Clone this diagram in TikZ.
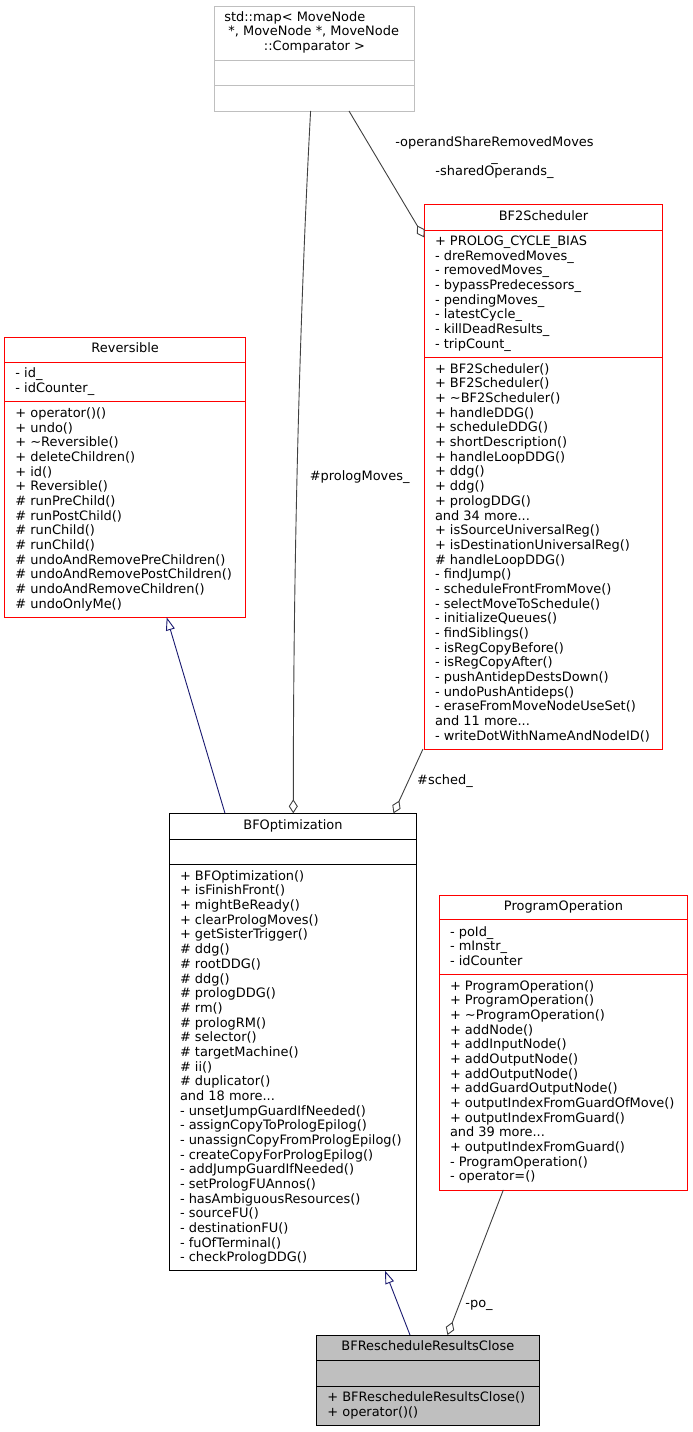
\documentclass[tikz,border=0pt]{standalone}
\usepackage{fontspec}
\setmainfont{DejaVu Sans}
\usetikzlibrary{arrows.meta}
\definecolor{edgegray}{HTML}{404040}
\definecolor{inhblue}{HTML}{191970}
\definecolor{mapgray}{HTML}{BFBFBF}
\definecolor{boxred}{HTML}{FF0000}
\newcommand\ltext[1]{\vtop{\baselineskip=14.67pt\lineskiplimit=-20pt\lineskip=0pt\halign{##\hfil\cr#1\crcr}}}
\newcommand\ctext[1]{\vtop{\baselineskip=14.67pt\lineskiplimit=-20pt\lineskip=0pt\halign{\hfil##\hfil\cr#1\crcr}}}
\begin{document}
\begin{tikzpicture}[x=1pt,y=-1pt,
  classbox/.style={draw=#1, line width=1pt, inner sep=0pt, outer sep=0pt, anchor=north west},
  divider/.style={draw=#1, line width=1pt},
  txt/.style={inner sep=0pt, outer sep=0pt, font=\fontsize{12.95}{14.67}\selectfont},
  lbl/.style={txt, anchor=base},
  inh/.style={draw=inhblue, line width=0.9pt, -{Triangle[open, length=13pt, width=9pt]}},
  agg/.style={draw=edgegray, line width=0.9pt, -{Diamond[open, length=14pt, width=9pt]}}]
\useasboundingbox (0,0) rectangle (693,1432);
\fill[white] (0,0) rectangle (693,1432);

% ---------- class boxes ----------
\node[classbox=mapgray, fill=white, minimum width=199.6pt, minimum height=105pt] (map) at (214.7,6) {};
\draw[divider=mapgray] (214.7,60.3) -- (414.3,60.3);
\draw[divider=mapgray] (214.7,85.7) -- (414.3,85.7);

\node[classbox=boxred, fill=white, minimum width=238.4pt, minimum height=544.3pt] (bf2) at (424.3,204.7) {};
\draw[divider=boxred] (424.3,230) -- (662.7,230);
\draw[divider=boxred] (424.3,357) -- (662.7,357);

\node[classbox=boxred, fill=white, minimum width=241pt, minimum height=280pt] (rev) at (4.7,337.3) {};
\draw[divider=boxred] (4.7,362) -- (245.7,362);
\draw[divider=boxred] (4.7,401.7) -- (245.7,401.7);

\node[classbox=black, fill=white, minimum width=247.4pt, minimum height=457.4pt] (bfo) at (169.3,813.3) {};
\draw[divider=black] (169.3,839.3) -- (416.7,839.3);
\draw[divider=black] (169.3,864.3) -- (416.7,864.3);

\node[classbox=boxred, fill=white, minimum width=248.4pt, minimum height=295pt] (po) at (439.3,895) {};
\draw[divider=boxred] (439.3,919.7) -- (687.7,919.7);
\draw[divider=boxred] (439.3,974.3) -- (687.7,974.3);

\node[classbox=black, fill=mapgray, minimum width=222.3pt, minimum height=90.7pt] (rrc) at (316.7,1335) {};
\draw[divider=black] (316.7,1360) -- (539,1360);
\draw[divider=black] (316.7,1386) -- (539,1386);

% ---------- texts ----------
\node[txt, anchor=base west] (mapT) at (224.3,21.3) {\ltext{std::map< MoveNode\cr\ *, MoveNode *, MoveNode}};
\node[txt, anchor=base] (mapT3) at (314.5,50.64) {::Comparator >};

\node[txt, anchor=base] (bf2T) at (543.5,220.5) {BF2Scheduler};
\node[txt, anchor=base west] (bf2A) at (435,245.5) {\ltext{%
+ PROLOG\_CYCLE\_BIAS\cr
- dreRemovedMoves\_\cr
- removedMoves\_\cr
- bypassPredecessors\_\cr
- pendingMoves\_\cr
- latestCycle\_\cr
- killDeadResults\_\cr
- tripCount\_}};
\node[txt, anchor=base west] (bf2M) at (435,373.3) {\ltext{%
+ BF2Scheduler()\cr
+ BF2Scheduler()\cr
+ \textasciitilde BF2Scheduler()\cr
+ handleDDG()\cr
+ scheduleDDG()\cr
+ shortDescription()\cr
+ handleLoopDDG()\cr
+ ddg()\cr
+ ddg()\cr
+ prologDDG()\cr
and 34 more...\cr
+ isSourceUniversalReg()\cr
+ isDestinationUniversalReg()\cr
\# handleLoopDDG()\cr
- findJump()\cr
- scheduleFrontFromMove()\cr
- selectMoveToSchedule()\cr
- initializeQueues()\cr
- findSiblings()\cr
- isRegCopyBefore()\cr
- isRegCopyAfter()\cr
- pushAntidepDestsDown()\cr
- undoPushAntideps()\cr
- eraseFromMoveNodeUseSet()\cr
and 11 more...\cr
- writeDotWithNameAndNodeID()}};

\node[txt, anchor=base] (revT) at (125.2,352.7) {Reversible};
\node[txt, anchor=base west] (revA) at (15.4,377.7) {\ltext{- id\_\cr- idCounter\_}};
\node[txt, anchor=base west] (revM) at (15.4,417.5) {\ltext{%
+ operator()()\cr
+ undo()\cr
+ \textasciitilde Reversible()\cr
+ deleteChildren()\cr
+ id()\cr
+ Reversible()\cr
\# runPreChild()\cr
\# runPostChild()\cr
\# runChild()\cr
\# runChild()\cr
\# undoAndRemovePreChildren()\cr
\# undoAndRemovePostChildren()\cr
\# undoAndRemoveChildren()\cr
\# undoOnlyMe()}};

\node[txt, anchor=base] (bfoT) at (293,829.3) {BFOptimization};
\node[txt, anchor=base west] (bfoM) at (180,880.3) {\ltext{%
+ BFOptimization()\cr
+ isFinishFront()\cr
+ mightBeReady()\cr
+ clearPrologMoves()\cr
+ getSisterTrigger()\cr
\# ddg()\cr
\# rootDDG()\cr
\# ddg()\cr
\# prologDDG()\cr
\# rm()\cr
\# prologRM()\cr
\# selector()\cr
\# targetMachine()\cr
\# ii()\cr
\# duplicator()\cr
and 18 more...\cr
- unsetJumpGuardIfNeeded()\cr
- assignCopyToPrologEpilog()\cr
- unassignCopyFromPrologEpilog()\cr
- createCopyForPrologEpilog()\cr
- addJumpGuardIfNeeded()\cr
- setPrologFUAnnos()\cr
- hasAmbiguousResources()\cr
- sourceFU()\cr
- destinationFU()\cr
- fuOfTerminal()\cr
- checkPrologDDG()}};

\node[txt, anchor=base] (poT) at (563.5,910.6) {ProgramOperation};
\node[txt, anchor=base west] (poA) at (450,936.3) {\ltext{- poId\_\cr- mInstr\_\cr- idCounter}};
\node[txt, anchor=base west] (poM) at (450,990) {\ltext{%
+ ProgramOperation()\cr
+ ProgramOperation()\cr
+ \textasciitilde ProgramOperation()\cr
+ addNode()\cr
+ addInputNode()\cr
+ addOutputNode()\cr
+ addOutputNode()\cr
+ addGuardOutputNode()\cr
+ outputIndexFromGuardOfMove()\cr
+ outputIndexFromGuard()\cr
and 39 more...\cr
+ outputIndexFromGuard()\cr
- ProgramOperation()\cr
- operator=()}};

\node[txt, anchor=base] (rrcT) at (427.85,1350.7) {BFRescheduleResultsClose};
\node[txt, anchor=base west] (rrcM) at (327.4,1401.5) {\ltext{+ BFRescheduleResultsClose()\cr+ operator()()}};

% ---------- connectors ----------
\coordinate (bfoOut1) at (225,813.3);
\coordinate (revIn) at (166.7,617.3);
\draw[inh] (bfoOut1) -- (revIn);

\coordinate (rrcOut) at (410,1335);
\coordinate (bfoIn2) at (385,1270.7);
\draw[inh] (rrcOut) -- (bfoIn2);

\coordinate (mapOut1) at (310.6,111);
\coordinate (bfoAgg1) at (293.3,813.3);
\draw[agg] (mapOut1) .. controls (303,250) and (293.3,500) .. (bfoAgg1);

\coordinate (mapOut2) at (349,111);
\coordinate (bf2Agg) at (424.3,237.5);
\draw[agg] (mapOut2) -- (bf2Agg);

\coordinate (bf2Out) at (423,749);
\coordinate (bfoAgg2) at (393.5,813.3);
\draw[agg] (bf2Out) -- (bfoAgg2);

\coordinate (poOut) at (503.3,1190);
\coordinate (rrcAgg) at (447.5,1335);
\draw[agg] (poOut) -- (rrcAgg);

% ---------- edge labels ----------
\node[lbl] (lblProlog) at (359.7,480.7) {\#prologMoves\_};
\node[txt, anchor=base] (lblShare) at (494.5,146.5) {\ctext{-operandShareRemovedMoves\cr\_\cr-sharedOperands\_}};
\node[lbl] (lblSched) at (445,784) {\#sched\_};
\node[lbl] (lblPo) at (479,1307) {-po\_};
\end{tikzpicture}
\end{document}
